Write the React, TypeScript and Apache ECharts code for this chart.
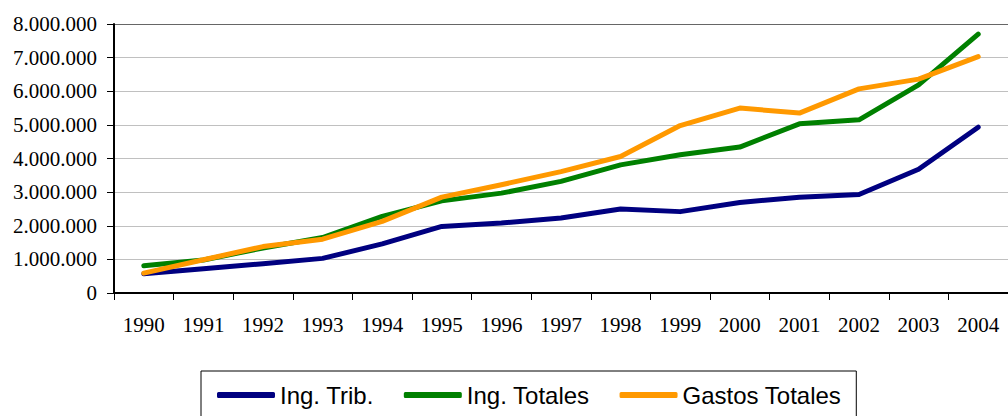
import React, { useEffect, useRef } from "react";
import * as echarts from "echarts";

const years = ["1990", "1991", "1992", "1993", "1994", "1995", "1996", "1997", "1998", "1999", "2000", "2001", "2002", "2003", "2004"];
const ingTrib = [570000, 720000, 870000, 1030000, 1460000, 1980000, 2080000, 2230000, 2500000, 2420000, 2690000, 2850000, 2930000, 3680000, 4930000];
const ingTotales = [810000, 980000, 1340000, 1650000, 2280000, 2740000, 2970000, 3320000, 3810000, 4110000, 4340000, 5030000, 5150000, 6190000, 7700000];
const gastosTotales = [590000, 990000, 1380000, 1600000, 2130000, 2850000, 3220000, 3610000, 4060000, 4980000, 5500000, 5350000, 6070000, 6360000, 7030000];

const seriesNames = ["Ing. Trib.", "Ing. Totales", "Gastos Totales"];
const seriesColors = ["#000080", "#008000", "#FF9900"];

const fmt = (v: number) => String(v).replace(/\B(?=(\d{3})+(?!\d))/g, ".");

export default function App() {
  const ref = useRef<HTMLDivElement>(null);
  useEffect(() => {
    if (!ref.current) return;
    const chart = echarts.init(ref.current, undefined, { renderer: "svg" });
    const data = [ingTrib, ingTotales, gastosTotales];
    chart.setOption({
      animation: false,
      grid: { left: 114, top: 24, right: -8, bottom: 123, containLabel: false },
      legend: {
        left: 201,
        top: 371,
        orient: "horizontal",
        icon: "roundRect",
        itemWidth: 58,
        itemHeight: 6,
        itemGap: 30,
        padding: [12, 15, 13, 16],
        borderColor: "#000",
        borderWidth: 1,
        textStyle: { fontFamily: "Liberation Sans, Arial, sans-serif", fontSize: 24, color: "#000" },
        data: seriesNames,
      },
      xAxis: {
        type: "category",
        data: years,
        boundaryGap: true,
        axisLine: { lineStyle: { color: "#000", width: 2 } },
        axisTick: { show: true, alignWithLabel: false, length: 7, lineStyle: { color: "#000", width: 1 } },
        axisLabel: { fontFamily: "Liberation Serif, Times New Roman, serif", fontSize: 21, color: "#000", margin: 21, interval: 0 },
        splitLine: { show: false },
      },
      yAxis: {
        type: "value",
        min: 0,
        max: 8000000,
        interval: 1000000,
        axisLine: { show: true, lineStyle: { color: "#000", width: 2 } },
        axisTick: { show: true, length: 7, lineStyle: { color: "#000", width: 1 } },
        axisLabel: { fontFamily: "Liberation Serif, Times New Roman, serif", fontSize: 21, color: "#000", margin: 17, formatter: (v: number) => fmt(v) },
        splitLine: {
          show: true,
          lineStyle: {
            color: ["#c0c0c0", "#c0c0c0", "#c0c0c0", "#c0c0c0", "#c0c0c0", "#c0c0c0", "#c0c0c0", "#c0c0c0", "#666666"],
            width: 1,
          },
        },
      },
      series: seriesNames.map((name, i) => ({
        name,
        type: "line",
        data: data[i],
        symbol: "none",
        color: seriesColors[i],
        lineStyle: { color: seriesColors[i], width: 5, cap: "round", join: "round" },
        itemStyle: { color: seriesColors[i] },
        z: 2 + i,
      })),
    });
    return () => chart.dispose();
  }, []);
  return <div ref={ref} style={{ position: "absolute", left: 0, top: 0, width: 1008, height: 416 }} />;
}
